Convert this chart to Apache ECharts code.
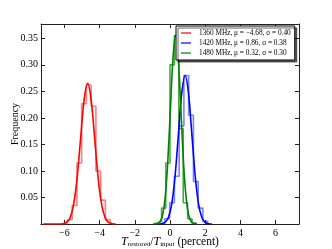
<!DOCTYPE html>
<html><head><meta charset="utf-8">
<script src="https://cdn.jsdelivr.net/npm/echarts@6/dist/echarts.min.js"></script>
<style>html,body{margin:0;padding:0;background:#fff}#c{width:332px;height:249px}</style>
</head><body><div id="c"></div>
<script>
// ---- data ----
const xTicks = [-6, -4, -2, 0, 2, 4, 6];
const yTicks = [0.05, 0.10, 0.15, 0.20, 0.25, 0.30, 0.35];
const names = ['1360 MHz, μ = −4.68, σ = 0.40', '1420 MHz, μ = 0.86, σ = 0.38', '1480 MHz, μ = 0.32, σ = 0.30'];

// histogram bin edges and heights
const redEdges = [-6.10, -5.83, -5.56, -5.29, -5.02, -4.75, -4.48, -4.21, -3.94, -3.67, -3.40];
const redHeights = [0.002, 0.008, 0.035, 0.115, 0.227, 0.262, 0.222, 0.100, 0.045, 0.008];
const blueEdges = [-0.56, -0.29, -0.02, 0.25, 0.52, 0.79, 1.06, 1.33, 1.60, 1.87, 2.14];
const blueHeights = [0.002, 0.010, 0.040, 0.090, 0.185, 0.280, 0.205, 0.080, 0.030, 0.005];
const greenEdges = [-0.97, -0.73, -0.48, -0.24, 0.00, 0.25, 0.50, 0.75, 1.00, 1.25, 1.50];
const greenHeights = [0.002, 0.005, 0.030, 0.115, 0.300, 0.355, 0.180, 0.040, 0.010, 0.002];

// fitted curves
const redCurveX = [-7.20, -6.28, -6.08, -5.88, -5.68, -5.48, -5.28, -5.08, -4.88, -4.68, -4.48, -4.28, -4.08, -3.88, -3.68, -3.48, -3.28, -3.08];
const redCurveY = [0.0, 0.0001, 0.0006, 0.0029, 0.0116, 0.036, 0.086, 0.161, 0.234, 0.265, 0.234, 0.161, 0.086, 0.036, 0.0116, 0.0029, 0.0006, 0.0001];
const blueCurveX = [-0.66, -0.47, -0.28, -0.09, 0.10, 0.29, 0.48, 0.67, 0.86, 1.05, 1.24, 1.43, 1.62, 1.81, 2.00, 2.19, 2.38];
const blueCurveY = [0.0001, 0.0006, 0.0031, 0.0123, 0.038, 0.091, 0.170, 0.247, 0.280, 0.247, 0.170, 0.091, 0.038, 0.0123, 0.0031, 0.0006, 0.0001];
const greenCurveX = [-0.88, -0.73, -0.58, -0.43, -0.28, -0.13, 0.02, 0.17, 0.32, 0.47, 0.62, 0.77, 0.92, 1.07, 1.22, 1.37, 1.52];
const greenCurveY = [0.0001, 0.0008, 0.0039, 0.0156, 0.048, 0.115, 0.215, 0.313, 0.355, 0.313, 0.215, 0.115, 0.048, 0.0156, 0.0039, 0.0008, 0.0001];

const colors = ['#ff0000', '#0000ff', '#008000'];
const histColors = ['rgba(255,0,0,0.5)', 'rgba(0,0,255,0.5)', 'rgba(0,128,0,0.7)'];

function stepPts(edges, h) {
  const pts = [[edges[0], 0]];
  for (let i = 0; i < h.length; i++) { pts.push([edges[i], h[i]]); pts.push([edges[i + 1], h[i]]); }
  pts.push([edges[edges.length - 1], 0]);
  return pts;
}
function zip(a, b) { return a.map((v, i) => [v, b[i]]); }

const FONT = 'Liberation Serif';
const hists = [[redEdges, redHeights], [blueEdges, blueHeights], [greenEdges, greenHeights]];
const curves = [[redCurveX, redCurveY], [blueCurveX, blueCurveY], [greenCurveX, greenCurveY]];

const series = [];
hists.forEach((h, i) => series.push({
  type: 'line', name: 'h' + i, data: stepPts(h[0], h[1]), symbol: 'none', silent: true,
  lineStyle: { color: histColors[i], width: 1.6 }, z: 2
}));
curves.forEach((c, i) => series.push({
  type: 'line', name: names[i], data: zip(c[0], c[1]), symbol: 'none', smooth: 0.3,
  itemStyle: { color: colors[i] }, lineStyle: { color: colors[i], width: 1.6 }, z: 3
}));

const axisLineStyle = { color: '#222', width: 1 };
const chart = echarts.init(document.getElementById('c'), null, { renderer: 'canvas' });
chart.setOption({
  animation: false,
  backgroundColor: '#fff',
  grid: { left: 41, right: 33, top: 24, bottom: 25, show: false, containLabel: false, outerBoundsMode: 'none' },
  legend: {
    data: names.map((n, i) => ({ name: n, icon: 'rect', itemStyle: { color: colors[i] } })),
    left: 176, top: 26, width: 118, orient: 'vertical',
    backgroundColor: '#fff', borderColor: '#000', borderWidth: 1,
    shadowColor: 'rgba(0,0,0,0.6)', shadowOffsetX: 2, shadowOffsetY: 2, shadowBlur: 0,
    padding: [3, 4, 3, 5], itemWidth: 10, itemHeight: 1.2, itemGap: 2,
    textStyle: { fontFamily: FONT, fontSize: 7.3, color: '#000', padding: [0, 0, 0, 3], lineHeight: 8 }
  },
  xAxis: [{
    type: 'value', min: -7.33, max: 7.33, position: 'bottom',
    name: '{i|T}{s|restored}{n|/}{i|T}{s|input}{n| (percent)}', nameLocation: 'middle', nameGap: 11,
    nameMoveOverlap: false,
    nameTextStyle: {
      fontFamily: FONT, fontSize: 11, color: '#000',
      rich: {
        i: { fontFamily: FONT, fontSize: 12, fontStyle: 'italic', color: '#000', lineHeight: 14 },
        s: { fontFamily: FONT, fontSize: 7, color: '#000', padding: [5, 0, 0, 0], lineHeight: 14 },
        n: { fontFamily: FONT, fontSize: 11.5, color: '#000', lineHeight: 14 }
      }
    },
    splitLine: { show: false },
    axisLine: { show: true, onZero: false, lineStyle: axisLineStyle },
    axisTick: { show: true, inside: true, length: 4, customValues: xTicks, lineStyle: axisLineStyle },
    axisLabel: { customValues: xTicks, fontFamily: FONT, fontSize: 10, color: '#000', margin: 4,
      formatter: v => (v < 0 ? '−' + Math.abs(v) : '' + v) }
  }, {
    type: 'value', min: -7.33, max: 7.33, position: 'top',
    splitLine: { show: false },
    axisLine: { show: true, onZero: false, lineStyle: axisLineStyle },
    axisTick: { show: true, inside: true, length: 4, customValues: xTicks, lineStyle: axisLineStyle },
    axisLabel: { show: false }
  }],
  yAxis: [{
    type: 'value', min: 0, max: 0.377, position: 'left',
    name: 'Frequency', nameLocation: 'middle', nameGap: 21, nameRotate: 90,
    nameMoveOverlap: false,
    nameTextStyle: { fontFamily: FONT, fontSize: 10, color: '#000' },
    splitLine: { show: false },
    axisLine: { show: true, onZero: false, lineStyle: axisLineStyle },
    axisTick: { show: true, inside: true, length: 4, customValues: yTicks, lineStyle: axisLineStyle },
    axisLabel: { customValues: yTicks, fontFamily: FONT, fontSize: 10, color: '#000', margin: 3,
      formatter: v => v.toFixed(2) }
  }, {
    type: 'value', min: 0, max: 0.377, position: 'right',
    splitLine: { show: false },
    axisLine: { show: true, onZero: false, lineStyle: axisLineStyle },
    axisTick: { show: true, inside: true, length: 4, customValues: yTicks, lineStyle: axisLineStyle },
    axisLabel: { show: false }
  }],
  series: series
});
</script></body></html>
